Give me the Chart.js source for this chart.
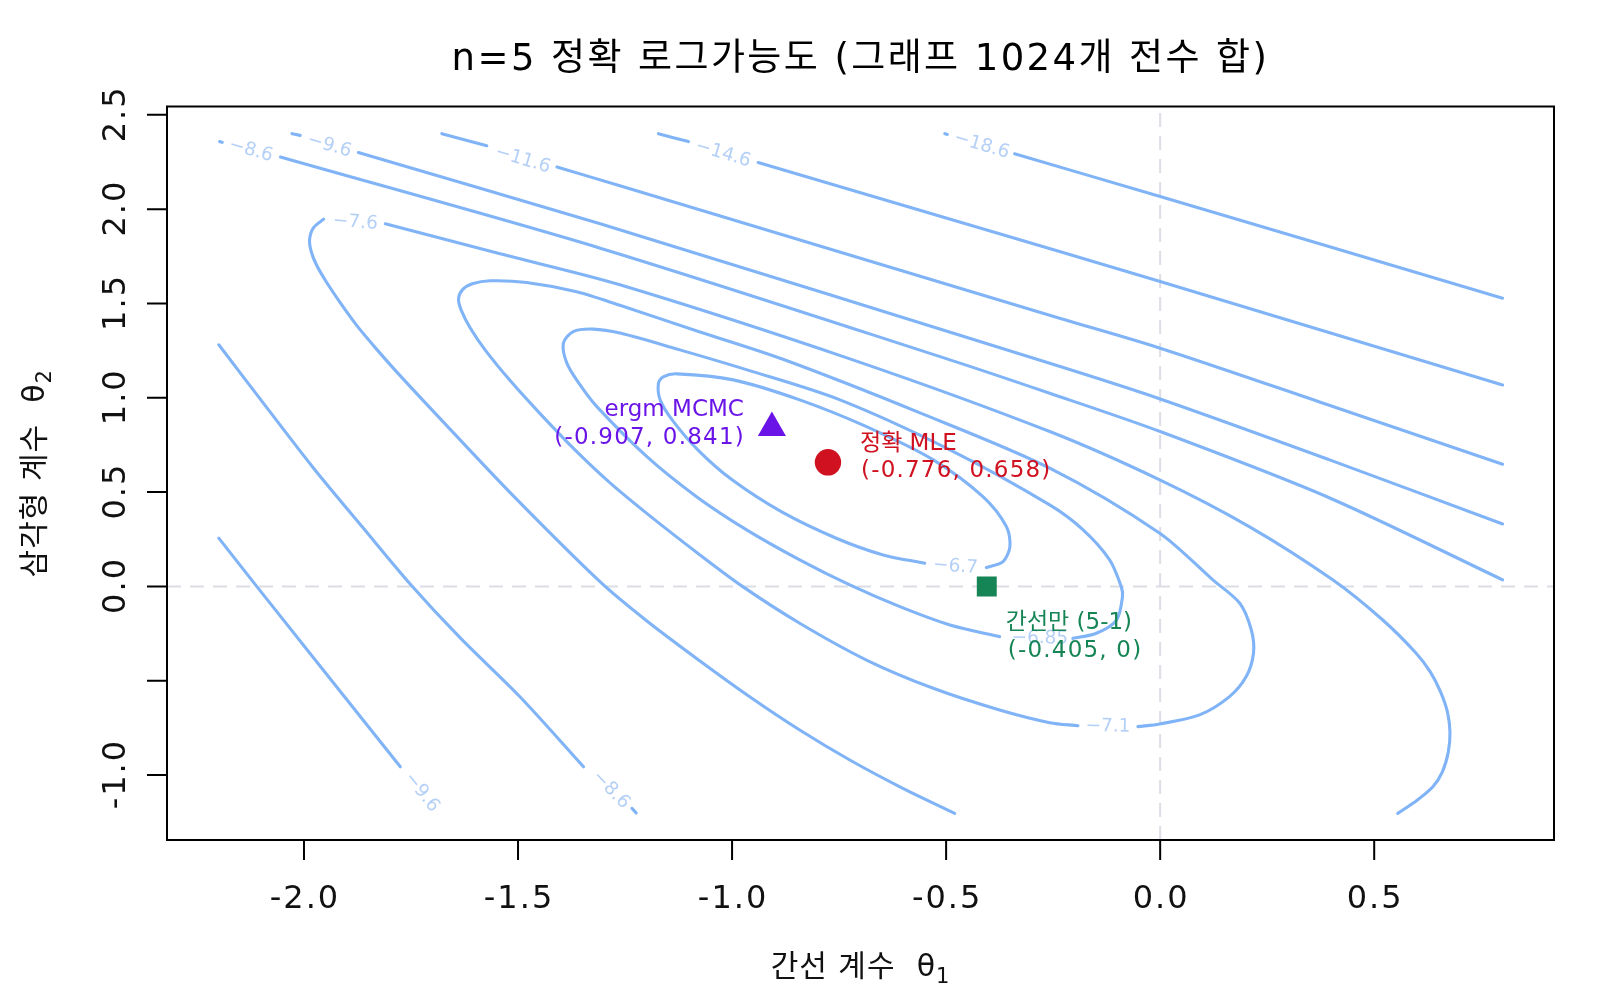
<!DOCTYPE html>
<html>
<head>
<meta charset="utf-8">
<script src="https://cdn.jsdelivr.net/npm/chart.js@4.4.1/dist/chart.umd.min.js"></script>
<style>
html,body{margin:0;padding:0;background:#ffffff;}
#wrap{width:1600px;height:1000px;}
</style>
</head>
<body>
<div id="wrap"><canvas id="c" width="1600" height="1000" style="width:1600px;height:1000px"></canvas></div>
<script>
// ---------------- data ----------------
const xTicks = [-2.0, -1.5, -1.0, -0.5, 0.0, 0.5];
const xTickLabels = ['-2.0', '-1.5', '-1.0', '-0.5', '0.0', '0.5'];
const yTicks = [2.5, 2.0, 1.5, 1.0, 0.5, 0.0, -0.5, -1.0];
const yTickLabels = ['2.5', '2.0', '1.5', '1.0', '0.5', '0.0', '', '-1.0'];

const levels = [-18.6, -14.6, -11.6, -9.6, -8.6, -7.6, -7.1, -6.85, -6.7];

// contour lines (null = gap left for a label / separate piece)
const lev186X = [-0.503, -0.497, null, -0.340, 0.000, 0.800];
const lev186Y = [2.400, 2.396, null, 2.293, 2.067, 1.528];

const lev146X = [-1.172, -1.102, null, -0.939, -0.235, 0.000, 0.800];
const lev146Y = [2.400, 2.358, null, 2.247, 1.775, 1.616, 1.068];

const lev116X = [-1.678, -1.573, null, -1.409, -1.262, -0.235, 0.000, 0.388, 0.800];
const lev116Y = [2.400, 2.336, null, 2.223, 2.124, 1.422, 1.263, 0.966, 0.648];

const lev96X = [-2.028, -2.009, null, -1.873, -1.308, -0.258, 0.000, 0.396, 0.800,
                null, -2.199, -2.110, -1.775];
const lev96Y = [2.400, 2.391, null, 2.300, 1.922, 1.183, 0.994, 0.671, 0.331,
                null, 0.256, -0.001, -0.956];

const lev86X = [-2.197, -2.191, null, -2.055, -1.308, -0.491, -0.258, 0.000, 0.396, 0.800,
                null, -2.199, -2.090, -1.978, -1.864, -1.752, -1.635, -1.495, -1.347, null, -1.234, -1.224];
const lev86Y = [2.358, 2.354, null, 2.276, 1.793, 1.201, 1.024, 0.821, 0.469, 0.035,
                null, 1.281, 0.957, 0.628, 0.316, 0.013, -0.273, -0.586, -0.956, null, -1.176, -1.201];

const lev76X = [-0.480, -0.608, -0.725, -0.842, -0.958, -1.075, -1.199, -1.308, -1.511, -1.666,
                -1.775, -1.829, -1.876, -1.915, -1.948, -1.971, -1.983, -1.987, -1.978, -1.954,
                null, -1.810, -1.542, -1.262, -0.718, -0.258, -0.001, 0.209, 0.403, 0.520,
                0.598, 0.631, 0.655, 0.671, 0.677, 0.673, 0.659, 0.637, 0.601, 0.555];
const lev76Y = [-1.203, -1.062, -0.920, -0.761, -0.586, -0.395, -0.183, 0.024, 0.480, 0.851,
                1.116, 1.254, 1.381, 1.503, 1.615, 1.705, 1.774, 1.837, 1.901, 1.947,
                null, 1.922, 1.763, 1.599, 1.201, 0.821, 0.565, 0.316, 0.035, -0.178,
                -0.354, -0.453, -0.559, -0.665, -0.772, -0.878, -0.984, -1.062, -1.132, -1.203];

const lev71X = [-0.052, -0.001, 0.092, 0.162, 0.201, 0.218, 0.213, 0.186, 0.123, -0.001,
                -0.258, -0.561, -0.881, -1.075, -1.262, -1.363, -1.480, -1.565, -1.607, -1.630,
                -1.639, -1.633, -1.612, -1.577, -1.518, -1.448, -1.367, -1.285, -1.192, -1.075,
                -0.975, -0.842, -0.686, -0.530, -0.375, -0.258, -0.192];
const lev71Y = [-0.743, -0.729, -0.681, -0.584, -0.478, -0.354, -0.231, -0.089, 0.035, 0.282,
                0.627, 0.920, 1.204, 1.349, 1.490, 1.562, 1.611, 1.620, 1.604, 1.572,
                1.524, 1.466, 1.371, 1.254, 1.090, 0.915, 0.724, 0.549, 0.374, 0.167,
                -0.001, -0.195, -0.390, -0.540, -0.655, -0.722, -0.738];

const lev685X = [-0.204, -0.149, -0.102, -0.088, -0.091, -0.118, -0.180, -0.258, -0.491, -0.748,
                 -0.965, -1.122, -1.262, -1.324, -1.371, -1.394, -1.386, -1.355, -1.316, -1.199,
                 -1.083, -0.966, -0.842, -0.725, -0.608, -0.491, -0.375];
const lev685Y = [-0.275, -0.248, -0.178, -0.054, -0.001, 0.141, 0.300, 0.432, 0.724, 0.989,
                 1.148, 1.254, 1.343, 1.364, 1.351, 1.290, 1.184, 1.068, 0.953, 0.688,
                 0.476, 0.300, 0.141, 0.008, -0.107, -0.204, -0.266];

const lev67X = [-0.406, -0.367, -0.351, -0.359, -0.414, -0.530, -0.686, -0.842, -0.997, -1.129,
                -1.161, -1.172, -1.168, -1.140, -1.080, -1.000, -0.884, -0.758, -0.647, -0.550];
const lev67Y = [0.100, 0.132, 0.211, 0.317, 0.476, 0.671, 0.847, 0.989, 1.095, 1.127,
                1.111, 1.077, 0.989, 0.883, 0.724, 0.565, 0.395, 0.257, 0.167, 0.123];

// contour labels
const labelText = ['\u221218.6', '\u221214.6', '\u221211.6', '\u22129.6', '\u22128.6', '\u22127.6',
                   '\u22127.1', '\u22126.85', '\u22126.7', '\u22129.6', '\u22128.6'];
const labelX = [-0.417, -1.021, -1.489, -1.941, -2.124, -1.880, -0.122, -0.281, -0.478, -1.725, -1.283];
const labelY = [2.337, 2.293, 2.261, 2.336, 2.311, 1.929, -0.743, -0.275, 0.105, -1.091, -1.079];
const labelAngle = [16.5, 16.7, 16.7, 16.5, 16.0, 4, 1, 1, 4, 51.5, 46];

// estimates
const pointNames = ['ergm MCMC', '정확 MLE', '간선만 (5-1)'];
const pointX = [-0.907, -0.776, -0.405];
const pointY = [0.841, 0.658, 0.0];
const pointCoordText = ['(-0.907, 0.841)', '(-0.776, 0.658)', '(-0.405, 0)'];

// ---------------- styling ----------------
const LINE_COL = '#80b4f7';
const LABEL_COL = '#b5d0f7';
const POINT_COLS = ['#6a14e8', '#d0111f', '#168555'];
const NUM_FONT = '"DejaVu Sans", "Noto Sans CJK KR", sans-serif';

function pts(xs, ys) {
  return xs.map((x, i) => (x === null || ys[i] === null) ? {x: null, y: null} : {x: x, y: ys[i]});
}

const contourSets = [
  [lev186X, lev186Y], [lev146X, lev146Y], [lev116X, lev116Y], [lev96X, lev96Y],
  [lev86X, lev86Y], [lev76X, lev76Y], [lev71X, lev71Y], [lev685X, lev685Y], [lev67X, lev67Y]
];

const datasets = [];
datasets.push({
  label: 'v0', data: [{x: 0, y: -1.344}, {x: 0, y: 2.544}], showLine: true,
  borderColor: '#dcdde5', borderWidth: 2, borderDash: [14, 9], pointRadius: 0, order: 10
});
datasets.push({
  label: 'h0', data: [{x: -2.32, y: 0}, {x: 0.92, y: 0}], showLine: true,
  borderColor: '#dcdde5', borderWidth: 2, borderDash: [14, 9], pointRadius: 0, order: 10
});
contourSets.forEach((c, i) => {
  datasets.push({
    label: String(levels[i]), data: pts(c[0], c[1]), showLine: true, spanGaps: false,
    borderColor: LINE_COL, borderWidth: 3.1, pointRadius: 0, tension: 0.3, fill: false,
    borderCapStyle: 'round', borderJoinStyle: 'round', order: 5
  });
});
const styles = ['triangle', 'circle', 'rect'];
const radii = [16.2, 13.2, 14.1];
pointX.forEach((x, i) => {
  datasets.push({
    label: pointNames[i], data: [{x: x, y: pointY[i]}], showLine: false,
    pointStyle: styles[i], pointRadius: radii[i], pointBackgroundColor: POINT_COLS[i],
    pointBorderColor: POINT_COLS[i], pointBorderWidth: 0, order: 0
  });
});

function drawParts(ctx, parts, cx, cy, rot, spacing) {
  ctx.save();
  ctx.translate(cx, cy);
  ctx.rotate(rot);
  ctx.letterSpacing = spacing || '0px';
  let total = 0;
  parts.forEach(p => { ctx.font = p.font; total += ctx.measureText(p.t).width; });
  let x = -total / 2;
  ctx.textAlign = 'left';
  ctx.textBaseline = 'alphabetic';
  parts.forEach(p => {
    ctx.font = p.font;
    ctx.fillText(p.t, x, p.dy || 0);
    x += ctx.measureText(p.t).width;
  });
  ctx.restore();
}

const decor = {
  id: 'decor',
  afterDatasetsDraw(chart) {
    const ctx = chart.ctx, xs = chart.scales.x, ys = chart.scales.y;
    ctx.save();
    ctx.font = '18.5px "DejaVu Sans"';
    ctx.fillStyle = LABEL_COL;
    ctx.textAlign = 'center';
    ctx.textBaseline = 'middle';
    labelText.forEach((t, i) => {
      ctx.save();
      ctx.translate(xs.getPixelForValue(labelX[i]), ys.getPixelForValue(labelY[i]));
      ctx.rotate(labelAngle[i] * Math.PI / 180);
      ctx.fillText(t, 0, 0);
      ctx.restore();
    });
    ctx.restore();
  },
  afterDraw(chart) {
    const ctx = chart.ctx, a = chart.chartArea, xs = chart.scales.x, ys = chart.scales.y;
    ctx.save();
    // box
    ctx.strokeStyle = '#000';
    ctx.lineWidth = 2;
    ctx.strokeRect(a.left, a.top, a.right - a.left, a.bottom - a.top);
    // ticks
    ctx.beginPath();
    xTicks.forEach(v => { const p = xs.getPixelForValue(v); ctx.moveTo(p, a.bottom); ctx.lineTo(p, a.bottom + 20); });
    yTicks.forEach(v => { const p = ys.getPixelForValue(v); ctx.moveTo(a.left, p); ctx.lineTo(a.left - 20, p); });
    ctx.stroke();
    // tick labels
    ctx.fillStyle = '#111';
    ctx.font = '32px ' + NUM_FONT;
    ctx.letterSpacing = '2px';
    ctx.textAlign = 'center';
    ctx.textBaseline = 'alphabetic';
    xTicks.forEach((v, i) => { ctx.fillText(xTickLabels[i], xs.getPixelForValue(v) + 1, a.bottom + 68); });
    yTicks.forEach((v, i) => {
      if (!yTickLabels[i]) return;
      ctx.save();
      ctx.translate(a.left - 42, ys.getPixelForValue(v));
      ctx.rotate(-Math.PI / 2);
      ctx.fillText(yTickLabels[i], 1, 0);
      ctx.restore();
    });
    ctx.letterSpacing = '0px';
    // title
    ctx.fillStyle = '#000';
    drawParts(ctx, [{t: 'n=5 정확 로그가능도 (그래프 1024개 전수 합)', font: '37px ' + NUM_FONT}],
      (a.left + a.right) / 2, 70, 0, '2.4px');
    // axis titles
    ctx.fillStyle = '#111';
    drawParts(ctx, [
      {t: '간선 계수  ', font: '30px ' + NUM_FONT},
      {t: '\u03b8', font: '30px ' + NUM_FONT},
      {t: '1', font: '21px ' + NUM_FONT, dy: 7}
    ], (a.left + a.right) / 2, 976, 0, '1px');
    drawParts(ctx, [
      {t: '삼각형 계수  ', font: '30px ' + NUM_FONT},
      {t: '\u03b8', font: '30px ' + NUM_FONT},
      {t: '2', font: '21px ' + NUM_FONT, dy: 7}
    ], 44, (a.top + a.bottom) / 2, -Math.PI / 2, '1px');
    // estimate annotations
    ctx.font = '23px ' + NUM_FONT;
    ctx.textBaseline = 'alphabetic';
    // ergm MCMC: left of triangle, right aligned
    let px = xs.getPixelForValue(pointX[0]), py = ys.getPixelForValue(pointY[0]);
    ctx.fillStyle = POINT_COLS[0];
    ctx.textAlign = 'right';
    ctx.letterSpacing = '0px';
    ctx.fillText(pointNames[0], px - 28, py - 12);
    ctx.letterSpacing = '1.2px';
    ctx.fillText(pointCoordText[0], px - 27, py + 16);
    // exact MLE: right of circle
    px = xs.getPixelForValue(pointX[1]); py = ys.getPixelForValue(pointY[1]);
    ctx.fillStyle = POINT_COLS[1];
    ctx.textAlign = 'left';
    ctx.letterSpacing = '0px';
    ctx.fillText(pointNames[1], px + 32, py - 12);
    ctx.letterSpacing = '1.2px';
    ctx.fillText(pointCoordText[1], px + 33, py + 14.5);
    // edges only: below right of square
    px = xs.getPixelForValue(pointX[2]); py = ys.getPixelForValue(pointY[2]);
    ctx.fillStyle = POINT_COLS[2];
    ctx.letterSpacing = '0px';
    ctx.fillText(pointNames[2], px + 19, py + 43);
    ctx.letterSpacing = '1.2px';
    ctx.fillText(pointCoordText[2], px + 21, py + 71);
    ctx.letterSpacing = '0px';
    ctx.restore();
  }
};

new Chart(document.getElementById('c').getContext('2d'), {
  type: 'scatter',
  data: {datasets: datasets},
  options: {
    responsive: false,
    animation: false,
    devicePixelRatio: 1,
    events: [],
    layout: {padding: {left: 0, right: 46, top: 106.5, bottom: 0}},
    plugins: {legend: {display: false}, tooltip: {enabled: false}, title: {display: false}},
    scales: {
      x: {
        type: 'linear', min: -2.32, max: 0.92,
        grid: {display: false}, border: {display: false}, ticks: {display: false},
        afterFit(s) { s.height = 160; }
      },
      y: {
        type: 'linear', min: -1.344, max: 2.544,
        grid: {display: false}, border: {display: false}, ticks: {display: false},
        afterFit(s) { s.width = 167; }
      }
    }
  },
  plugins: [decor]
});
</script>
</body>
</html>
